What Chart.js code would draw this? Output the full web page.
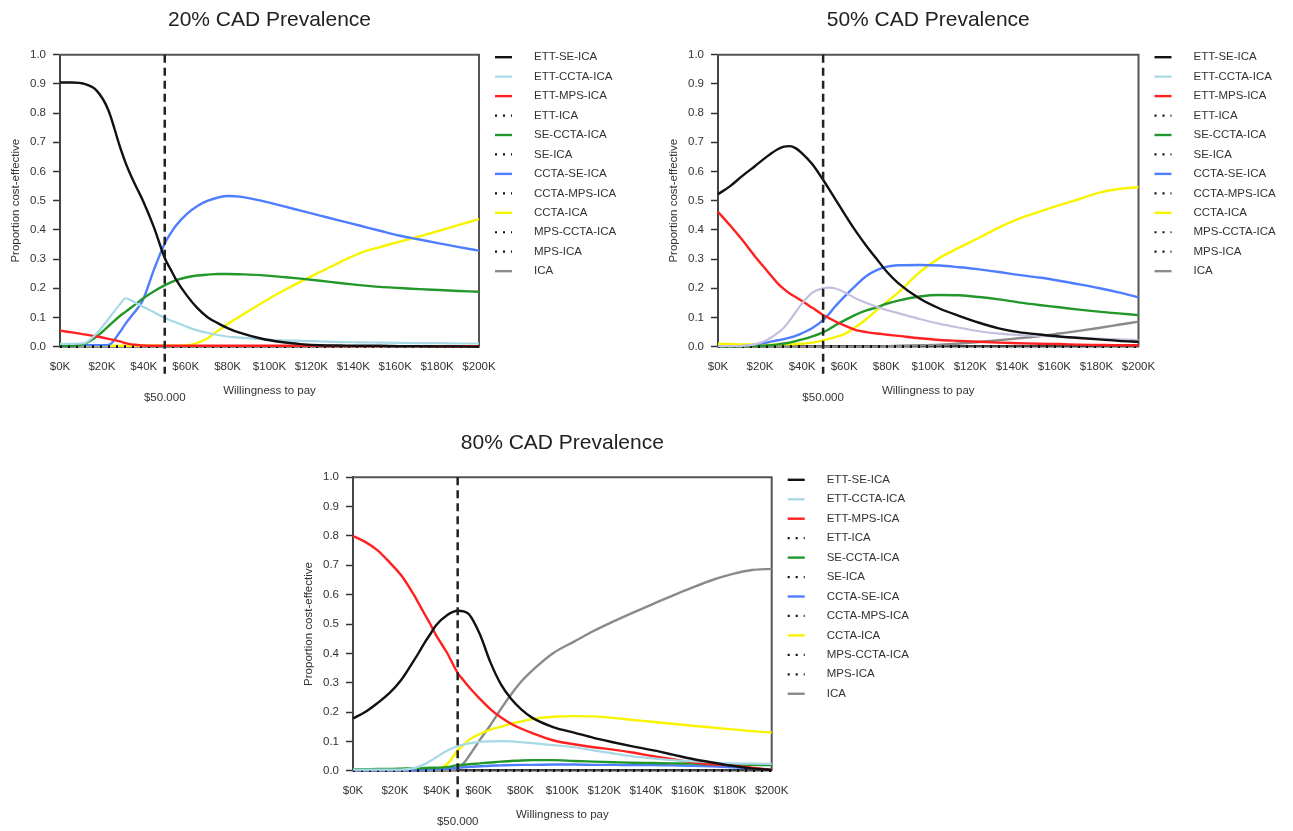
<!DOCTYPE html>
<html lang="en">
<head>
    <meta charset="UTF-8">
    <title>CAD Prevalence - Proportion cost-effective</title>
    <script src="https://cdn.jsdelivr.net/npm/chart.js@4"></script>
    <style>
        body { margin: 0; background: #fff; }
        #page { position: relative; width: 1293px; height: 831px; overflow: hidden; }
        canvas { position: absolute; }
    </style>
</head>
<body>
<div id="page">
    <canvas id="chart20" width="640" height="415" style="left:0px;top:0px"></canvas>
    <canvas id="chart50" width="635" height="415" style="left:658px;top:0px"></canvas>
    <canvas id="chart80" width="640" height="409" style="left:293px;top:422px"></canvas>
</div>

<script>
// Willingness to pay ($K) at which the curves were read
const wtp = [0, 5.8, 11.6, 17.5, 23.1, 28.6, 31.4, 34.1, 36.9, 39.6, 44.9, 50.1, 52.8, 55.4, 60.6, 65.6,
             70.6, 75.5, 80.5, 85.7, 95.9, 105.6, 114.9, 124.2, 133.5, 142.9, 152.7, 162.3, 171.6, 181, 190.5, 200];

const seriesNames = ['ETT-SE-ICA', 'ETT-CCTA-ICA', 'ETT-MPS-ICA', 'ETT-ICA', 'SE-CCTA-ICA', 'SE-ICA',
                     'CCTA-SE-ICA', 'CCTA-MPS-ICA', 'CCTA-ICA', 'MPS-CCTA-ICA', 'MPS-ICA', 'ICA'];
const seriesColors = ['#111111', '#a6d8e6', '#ff2020', '#111111', '#23982a', '#111111',
                      '#4f7dff', '#111111', '#f8f400', '#111111', '#111111', '#8a8a8a'];
const dottedSeries = ['ETT-ICA', 'SE-ICA', 'CCTA-MPS-ICA', 'MPS-CCTA-ICA', 'MPS-ICA'];

const xTickValues = [0, 20, 40, 60, 80, 100, 120, 140, 160, 180, 200];
const thresholdWtp = 50;
const thresholdLabel = '$50.000';

const zeroSeries = [0, 0, 0, 0, 0, 0, 0, 0, 0, 0, 0, 0, 0, 0, 0, 0, 0, 0, 0, 0, 0, 0, 0, 0, 0, 0, 0, 0, 0, 0, 0, 0];

// 20% CAD prevalence
const p20_ettSe = [0.905, 0.905, 0.9, 0.877, 0.81, 0.685, 0.628, 0.582, 0.54, 0.5, 0.408, 0.302, 0.265, 0.23, 0.175, 0.132,
                   0.1, 0.08, 0.062, 0.048, 0.028, 0.016, 0.009, 0.005, 0.004, 0.003, 0.003, 0.002, 0.002, 0.001, 0.001, 0];
const p20_ettCcta = [0.01, 0.01, 0.012, 0.045, 0.095, 0.145, 0.166, 0.158, 0.147, 0.137, 0.118, 0.098, 0.09, 0.083, 0.068, 0.056,
                     0.047, 0.04, 0.034, 0.031, 0.026, 0.022, 0.02, 0.018, 0.016, 0.015, 0.014, 0.013, 0.012, 0.012, 0.011, 0.011];
const p20_ettMps = [0.055, 0.049, 0.042, 0.035, 0.027, 0.018, 0.012, 0.008, 0.006, 0.004, 0.003, 0.003, 0.003, 0.003, 0.003, 0.003,
                    0.003, 0.003, 0.003, 0.003, 0.003, 0.003, 0.003, 0.003, 0.002, 0.002, 0.002, 0.002, 0.002, 0.002, 0.002, 0.002];
const p20_seCcta = [0.003, 0.003, 0.01, 0.035, 0.07, 0.105, 0.12, 0.135, 0.15, 0.165, 0.19, 0.211, 0.22, 0.228, 0.238, 0.244,
                    0.247, 0.249, 0.249, 0.248, 0.245, 0.239, 0.233, 0.226, 0.218, 0.211, 0.205, 0.201, 0.197, 0.194, 0.191, 0.188];
const p20_cctaSe = [0.005, 0.005, 0.005, 0.005, 0.006, 0.05, 0.08, 0.105, 0.13, 0.16, 0.265, 0.355, 0.388, 0.415, 0.455, 0.482,
                    0.5, 0.511, 0.516, 0.514, 0.5, 0.483, 0.466, 0.449, 0.432, 0.415, 0.397, 0.38, 0.367, 0.354, 0.341, 0.329];
const p20_ccta = [0.003, 0.003, 0.003, 0.003, 0.003, 0.003, 0.003, 0.003, 0.003, 0.003, 0.003, 0.003, 0.003, 0.003, 0.004, 0.013,
                  0.03, 0.055, 0.08, 0.103, 0.148, 0.188, 0.223, 0.256, 0.289, 0.32, 0.341, 0.36, 0.378, 0.397, 0.417, 0.437];

// 50% CAD prevalence
const p50_ettSe = [0.522, 0.55, 0.585, 0.618, 0.65, 0.677, 0.685, 0.687, 0.68, 0.665, 0.625, 0.57, 0.54, 0.51, 0.45, 0.395,
                   0.345, 0.3, 0.255, 0.218, 0.165, 0.13, 0.105, 0.082, 0.063, 0.05, 0.042, 0.035, 0.03, 0.025, 0.02, 0.017];
const p50_ettCcta = [0.002, 0.002, 0.003, 0.008, 0.022, 0.048, 0.066, 0.09, 0.118, 0.145, 0.185, 0.2, 0.202, 0.2, 0.185, 0.165,
                     0.15, 0.137, 0.125, 0.115, 0.095, 0.078, 0.065, 0.053, 0.045, 0.04, 0.037, 0.034, 0.031, 0.028, 0.025, 0.023];
const p50_ettMps = [0.462, 0.415, 0.365, 0.31, 0.262, 0.215, 0.197, 0.182, 0.17, 0.158, 0.133, 0.108, 0.098, 0.088, 0.071, 0.057,
                    0.05, 0.045, 0.041, 0.037, 0.029, 0.023, 0.02, 0.017, 0.014, 0.012, 0.01, 0.009, 0.007, 0.006, 0.005, 0.005];
const p50_seCcta = [0, 0, 0.001, 0.002, 0.004, 0.008, 0.011, 0.014, 0.019, 0.024, 0.035, 0.05, 0.06, 0.072, 0.092, 0.11,
                    0.124, 0.135, 0.148, 0.158, 0.172, 0.177, 0.176, 0.17, 0.162, 0.152, 0.143, 0.135, 0.127, 0.12, 0.114, 0.108];
const p50_cctaSe = [0, 0.001, 0.002, 0.007, 0.014, 0.022, 0.026, 0.031, 0.037, 0.045, 0.064, 0.092, 0.112, 0.135, 0.175, 0.21,
                    0.242, 0.262, 0.274, 0.279, 0.28, 0.278, 0.272, 0.265, 0.256, 0.246, 0.237, 0.226, 0.214, 0.201, 0.186, 0.169];
const p50_ccta = [0.01, 0.009, 0.008, 0.008, 0.007, 0.007, 0.008, 0.008, 0.009, 0.01, 0.014, 0.022, 0.027, 0.032, 0.045, 0.068,
                  0.095, 0.125, 0.155, 0.185, 0.255, 0.305, 0.34, 0.373, 0.408, 0.438, 0.462, 0.485, 0.505, 0.527, 0.54, 0.546];
const p50_ica = [0, 0, 0, 0, 0, 0, 0, 0, 0, 0, 0, 0, 0, 0, 0, 0,
                 0, 0, 0.002, 0.003, 0.005, 0.007, 0.011, 0.016, 0.022, 0.029, 0.036, 0.045, 0.054, 0.064, 0.075, 0.086];

// 80% CAD prevalence
const p80_ettSe = [0.178, 0.2, 0.23, 0.265, 0.31, 0.37, 0.402, 0.435, 0.465, 0.495, 0.53, 0.545, 0.543, 0.533, 0.465, 0.37,
                   0.295, 0.245, 0.208, 0.18, 0.148, 0.13, 0.112, 0.097, 0.083, 0.07, 0.055, 0.04, 0.028, 0.017, 0.008, 0.002];
const p80_ettCcta = [0.004, 0.004, 0.004, 0.004, 0.004, 0.008, 0.014, 0.022, 0.033, 0.045, 0.068, 0.084, 0.089, 0.093, 0.098, 0.1,
                     0.101, 0.1, 0.097, 0.094, 0.087, 0.08, 0.069, 0.059, 0.049, 0.042, 0.036, 0.032, 0.028, 0.025, 0.024, 0.023];
const p80_ettMps = [0.8, 0.78, 0.752, 0.71, 0.665, 0.605, 0.57, 0.535, 0.5, 0.463, 0.402, 0.332, 0.308, 0.285, 0.245, 0.21,
                    0.182, 0.16, 0.143, 0.128, 0.103, 0.09, 0.08, 0.072, 0.062, 0.05, 0.039, 0.029, 0.022, 0.018, 0.01, 0.003];
const p80_seCcta = [0.005, 0.005, 0.006, 0.006, 0.007, 0.008, 0.008, 0.009, 0.01, 0.01, 0.012, 0.019, 0.02, 0.022, 0.025, 0.028,
                    0.031, 0.033, 0.035, 0.036, 0.036, 0.033, 0.031, 0.029, 0.027, 0.026, 0.025, 0.024, 0.022, 0.021, 0.02, 0.019];
const p80_cctaSe = [0.001, 0.002, 0.002, 0.002, 0.002, 0.002, 0.002, 0.003, 0.004, 0.005, 0.007, 0.01, 0.012, 0.013, 0.015, 0.017,
                    0.018, 0.019, 0.02, 0.02, 0.021, 0.021, 0.02, 0.02, 0.019, 0.019, 0.018, 0.017, 0.015, 0.012, 0.008, 0.003];
const p80_ccta = [0.004, 0.004, 0.004, 0.004, 0.004, 0.004, 0.004, 0.004, 0.005, 0.006, 0.022, 0.07, 0.088, 0.105, 0.125, 0.14,
                  0.15, 0.16, 0.168, 0.176, 0.184, 0.186, 0.185, 0.18, 0.173, 0.167, 0.16, 0.153, 0.147, 0.141, 0.135, 0.13];
const p80_ica = [0, 0, 0, 0, 0, 0, 0, 0, 0, 0, 0, 0.008, 0.025, 0.05, 0.105, 0.155,
                 0.21, 0.26, 0.305, 0.342, 0.402, 0.44, 0.476, 0.508, 0.538, 0.567, 0.597, 0.625, 0.65, 0.67, 0.684, 0.688];

Chart.defaults.font.family = '"Liberation Sans", Arial, sans-serif';
Chart.defaults.color = '#333';

const FONT = '11.5px "Liberation Sans", Arial, sans-serif';

// top and right edges of the plot box
const framePlugin = {
    id: 'frame',
    beforeDatasetsDraw(chart) {
        const { ctx, chartArea: a } = chart;
        ctx.save();
        ctx.strokeStyle = '#555';
        ctx.lineWidth = 2;
        ctx.beginPath();
        ctx.moveTo(a.left, a.top);
        ctx.lineTo(a.right, a.top);
        ctx.lineTo(a.right, a.bottom);
        ctx.stroke();
        ctx.restore();
    }
};

// dashed willingness-to-pay threshold with its label
const thresholdPlugin = {
    id: 'threshold',
    afterDatasetsDraw(chart) {
        const { ctx, chartArea: a, scales } = chart;
        const px = scales.x.getPixelForValue(thresholdWtp);
        ctx.save();
        ctx.strokeStyle = '#222';
        ctx.lineWidth = 2.5;
        ctx.setLineDash([8, 5]);
        ctx.beginPath();
        ctx.moveTo(px, a.top);
        ctx.lineTo(px, a.bottom + 27);
        ctx.stroke();
        ctx.setLineDash([]);
        ctx.fillStyle = '#333';
        ctx.font = FONT;
        ctx.textAlign = 'center';
        ctx.textBaseline = 'middle';
        ctx.fillText(thresholdLabel, px, a.bottom + 51);
        ctx.restore();
    }
};

// legend column to the right of the plot
const sideLegendPlugin = {
    id: 'sideLegend',
    afterDraw(chart) {
        const { ctx, chartArea: a } = chart;
        ctx.save();
        ctx.font = FONT;
        ctx.textAlign = 'left';
        ctx.textBaseline = 'middle';
        chart.data.datasets.forEach((ds, i) => {
            const y = a.top + 2.5 + i * 19.45;
            ctx.strokeStyle = seriesColors[i];
            ctx.lineWidth = ds.borderWidth;
            ctx.setLineDash(ds.borderDash);
            ctx.beginPath();
            ctx.moveTo(a.right + 16, y);
            ctx.lineTo(a.right + 33, y);
            ctx.stroke();
            ctx.fillStyle = '#333';
            ctx.fillText(ds.label, a.right + 55, y);
        });
        ctx.restore();
    }
};

function makeChart(canvasId, titleText, values, layout, lineColors) {
    const datasets = seriesNames.map((name, i) => {
        const dotted = dottedSeries.includes(name);
        return {
            label: name,
            data: wtp.map((x, j) => ({ x: x, y: values[i][j] })),
            borderColor: (lineColors && lineColors[name]) || seriesColors[i],
            borderWidth: dotted ? 2.2 : (name === 'ETT-CCTA-ICA' ? 2.2 : 2.4),
            borderDash: dotted ? [2, 6] : [],
            pointRadius: 0,
            cubicInterpolationMode: 'monotone',
            clip: 6
        };
    });

    new Chart(document.getElementById(canvasId), {
        type: 'line',
        data: { datasets: datasets },
        plugins: [framePlugin, thresholdPlugin, sideLegendPlugin],
        options: {
            responsive: false,
            animation: false,
            devicePixelRatio: 1,
            layout: { padding: { left: 0, top: 0, right: layout.right, bottom: layout.bottom } },
            plugins: {
                legend: { display: false },
                tooltip: { enabled: false },
                title: {
                    display: true,
                    text: titleText,
                    fullSize: false,
                    color: '#222',
                    font: { size: 21, weight: 'normal' },
                    padding: { top: layout.titleTop, bottom: layout.titleBottom }
                }
            },
            scales: {
                x: {
                    type: 'linear',
                    min: 0,
                    max: 200,
                    afterFit: s => { s.height = 55; },
                    afterBuildTicks: s => { s.ticks = xTickValues.map(v => ({ value: v })); },
                    grid: { display: false, drawTicks: false },
                    border: { display: true, color: '#444', width: 2.5 },
                    ticks: {
                        padding: 13,
                        color: '#333',
                        font: { size: 11.5 },
                        maxRotation: 0,
                        autoSkip: false,
                        callback: v => '$' + v + 'K'
                    },
                    title: {
                        display: true,
                        text: 'Willingness to pay',
                        color: '#333',
                        font: { size: 11.5 },
                        padding: { top: 0, bottom: 4 }
                    }
                },
                y: {
                    min: 0,
                    max: 1,
                    afterFit: s => { s.width = 60; },
                    grid: { drawOnChartArea: false, drawTicks: true, tickLength: 7, tickColor: '#333', tickWidth: 1.5 },
                    border: { display: true, color: '#444', width: 2 },
                    ticks: {
                        stepSize: 0.1,
                        padding: 7,
                        color: '#333',
                        font: { size: 11.5 },
                        callback: v => v.toFixed(1)
                    },
                    title: {
                        display: true,
                        text: 'Proportion cost-effective',
                        color: '#333',
                        font: { size: 11.5 },
                        padding: { top: 9, bottom: 0 }
                    }
                }
            }
        }
    });
}

makeChart('chart20', '20% CAD Prevalence',
    [p20_ettSe, p20_ettCcta, p20_ettMps, zeroSeries, p20_seCcta, zeroSeries,
     p20_cctaSe, zeroSeries, p20_ccta, zeroSeries, zeroSeries, zeroSeries],
    { right: 161, bottom: 13.3, titleTop: 8, titleBottom: 21.5 });

makeChart('chart50', '50% CAD Prevalence',
    [p50_ettSe, p50_ettCcta, p50_ettMps, zeroSeries, p50_seCcta, zeroSeries,
     p50_cctaSe, zeroSeries, p50_ccta, zeroSeries, zeroSeries, p50_ica],
    { right: 154.5, bottom: 13.3, titleTop: 8, titleBottom: 21.5 },
    { 'ETT-CCTA-ICA': '#c6bedf' });

makeChart('chart80', '80% CAD Prevalence',
    [p80_ettSe, p80_ettCcta, p80_ettMps, zeroSeries, p80_seCcta, zeroSeries,
     p80_cctaSe, zeroSeries, p80_ccta, zeroSeries, zeroSeries, p80_ica],
    { right: 161.3, bottom: 5.3, titleTop: 8.4, titleBottom: 21.7 });
</script>
</body>
</html>
